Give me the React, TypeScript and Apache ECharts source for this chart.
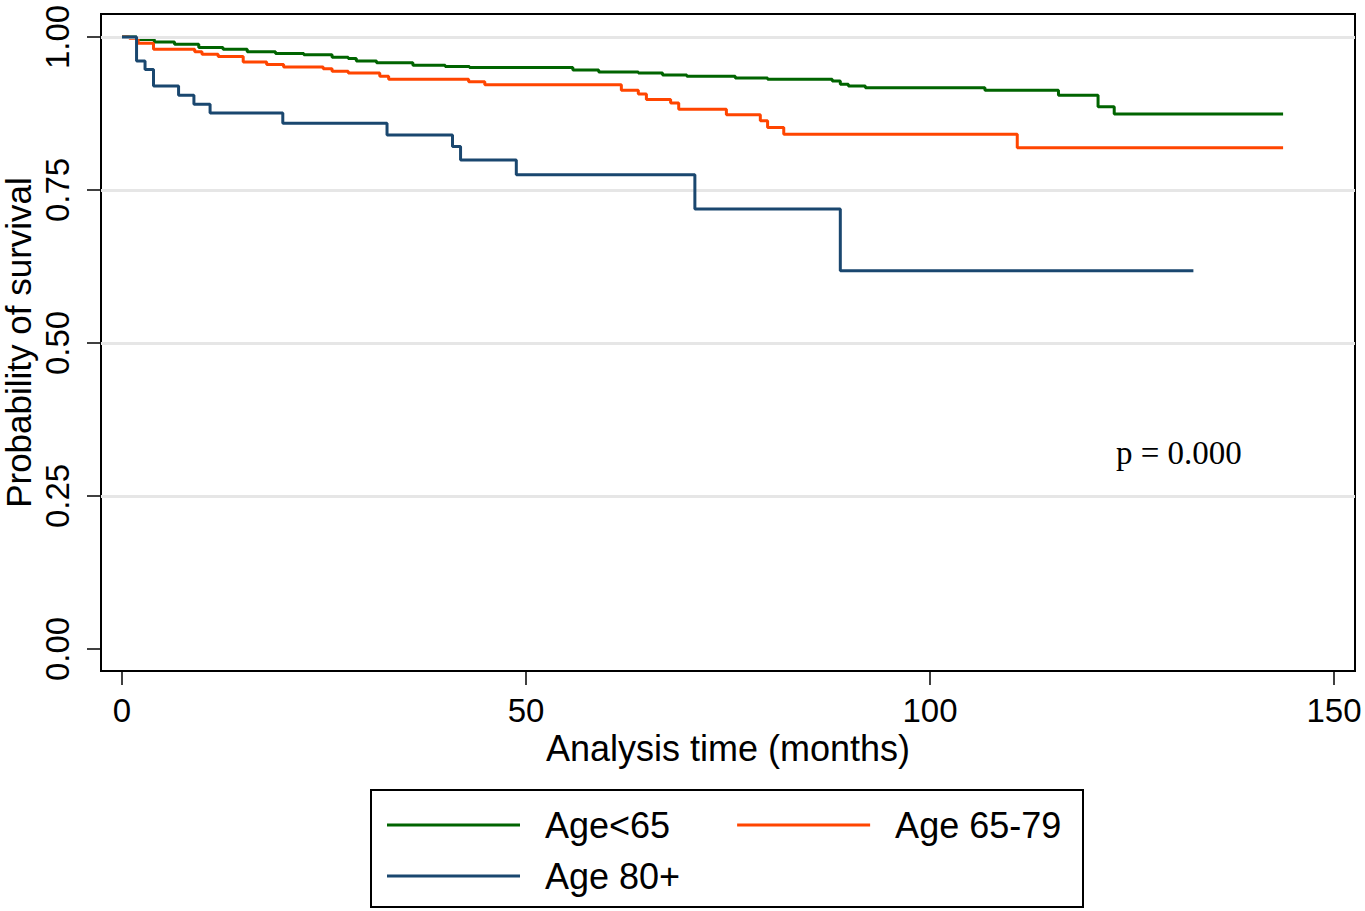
import React, { useEffect, useRef } from "react";
import * as echarts from "echarts";

// ---- Data ----
const seriesNames = ["Age<65", "Age 65-79", "Age 80+"];

const under65Months = [0, 1.8, 4.0, 6.5, 9.5, 12.5, 15.5, 19, 22.5, 26, 28, 29, 31.5, 36, 40, 43, 55.8, 59.0, 63.9, 66.9, 69.9, 75.9, 79.9, 87.9, 88.9, 89.9, 92.0, 106.8, 115.9, 120.8, 122.8, 143.7];
const under65Surv = [1.0, 0.996, 0.992, 0.988, 0.983, 0.98, 0.976, 0.973, 0.971, 0.967, 0.965, 0.961, 0.958, 0.954, 0.952, 0.95, 0.946, 0.943, 0.941, 0.938, 0.936, 0.933, 0.931, 0.928, 0.923, 0.92, 0.917, 0.913, 0.905, 0.886, 0.874, 0.874];

const age65to79Months = [0, 0.9, 2.0, 3.9, 9.0, 9.9, 11.9, 15.0, 17.9, 20.0, 24.9, 26.0, 28.0, 31.9, 33.0, 42.9, 44.9, 61.8, 63.9, 64.9, 67.9, 68.9, 74.8, 79.0, 79.9, 81.9, 110.8, 143.7];
const age65to79Surv = [1.0, 0.998, 0.99, 0.98, 0.976, 0.972, 0.968, 0.959, 0.955, 0.951, 0.948, 0.944, 0.941, 0.936, 0.931, 0.927, 0.922, 0.913, 0.907, 0.898, 0.892, 0.882, 0.873, 0.863, 0.852, 0.841, 0.819, 0.819];

const age80Months = [0, 1.8, 2.85, 3.9, 7.0, 8.9, 10.9, 19.9, 32.8, 40.9, 41.9, 48.8, 70.9, 88.9, 132.6];
const age80Surv = [1.0, 0.961, 0.947, 0.92, 0.905, 0.89, 0.876, 0.859, 0.84, 0.821, 0.799, 0.775, 0.719, 0.618, 0.618];

const xTicks = [0, 50, 100, 150];
const yTicks = [0, 0.25, 0.5, 0.75, 1];
const gridValues = [0.25, 0.5, 0.75, 1];
const pValueText = "p = 0.000";

const colors = ["#006400", "#ff4500", "#1a476f"];

const zip = (xs: number[], ys: number[]) => xs.map((x, i) => [x, ys[i]]);

const SANS = "'Liberation Sans', Arial, Helvetica, sans-serif";

export default function App() {
  const ref = useRef<HTMLDivElement>(null);
  useEffect(() => {
    if (!ref.current) return;
    const chart = echarts.init(ref.current, undefined, { renderer: "svg" });
    const lineSeries = [
      zip(under65Months, under65Surv),
      zip(age65to79Months, age65to79Surv),
      zip(age80Months, age80Surv),
    ].map((data, i) => ({
      name: seriesNames[i],
      type: "line",
      step: "end",
      data,
      showSymbol: false,
      symbol: "none",
      z: 3 + i,
      lineStyle: { color: colors[i], width: 3 },
      itemStyle: { color: colors[i] },
    }));
    chart.setOption({
      animation: false,
      backgroundColor: "#ffffff",
      grid: {
        left: 101,
        right: 10,
        top: 14,
        bottom: 240,
        outerBoundsMode: "none",
        containLabel: false,
        show: true,
        borderColor: "#000",
        borderWidth: 2,
        backgroundColor: "#fff",
      },
      xAxis: {
        type: "value",
        min: -2.6,
        max: 152.6,
        name: "Analysis time (months)",
        nameLocation: "middle",
        nameGap: 59,
        nameMoveOverlap: false,
        nameTextStyle: { fontFamily: SANS, fontSize: 36, color: "#000" },
        axisLine: { show: true, onZero: false, lineStyle: { color: "#000", width: 2 } },
        axisTick: { show: true, length: 14, customValues: xTicks, lineStyle: { color: "#000", width: 1.5 } },
        axisLabel: {
          customValues: xTicks,
          fontFamily: SANS,
          fontSize: 33,
          color: "#000",
          margin: 23,
          formatter: (v: number) => String(v),
        },
        splitLine: { show: false },
      },
      yAxis: {
        type: "value",
        min: -0.036,
        max: 1.0376,
        name: "Probability of survival",
        nameLocation: "middle",
        nameGap: 65,
        nameMoveOverlap: false,
        nameTextStyle: { fontFamily: SANS, fontSize: 35, color: "#000", lineHeight: 36 },
        axisLine: { show: true, onZero: false, lineStyle: { color: "#000", width: 2 } },
        axisTick: { show: true, length: 14, customValues: yTicks, lineStyle: { color: "#000", width: 1.5 } },
        axisLabel: {
          customValues: yTicks,
          rotate: 90,
          fontFamily: SANS,
          fontSize: 33,
          color: "#000",
          margin: 27,
          formatter: (v: number) => v.toFixed(2),
        },
        splitLine: { show: false },
      },
      legend: [
        {
          data: [seriesNames[0], seriesNames[1]],
          left: 387,
          top: 805,
          orient: "horizontal",
          padding: 0,
          itemGap: 67,
          itemWidth: 133,
          itemHeight: 3,
          icon: "rect",
          textStyle: { fontFamily: SANS, fontSize: 36, color: "#000", lineHeight: 40, padding: [0, 0, 0, 20] },
        },
        {
          data: [seriesNames[2]],
          left: 387,
          top: 856,
          orient: "horizontal",
          padding: 0,
          itemWidth: 133,
          itemHeight: 3,
          icon: "rect",
          textStyle: { fontFamily: SANS, fontSize: 36, color: "#000", lineHeight: 40, padding: [0, 0, 0, 20] },
        },
      ],
      graphic: [
        {
          type: "rect",
          shape: { x: 371, y: 790, width: 712, height: 117 },
          style: { fill: "none", stroke: "#000", lineWidth: 2 },
          silent: true,
        },
        {
          type: "text",
          x: 1116,
          y: 453,
          style: {
            text: pValueText,
            fontFamily: "'Liberation Serif', 'Times New Roman', serif",
            fontSize: 33,
            fill: "#000",
            verticalAlign: "middle",
            align: "left",
          },
          silent: true,
        },
      ],
      series: [
        {
          type: "line",
          data: [],
          z: 1,
          silent: true,
          markLine: {
            silent: true,
            symbol: "none",
            label: { show: false },
            lineStyle: { color: "#e6e6e6", width: 3, type: "solid" },
            data: gridValues.map((v) => ({ yAxis: v })),
          },
        },
        ...lineSeries,
      ],
    });
    return () => chart.dispose();
  }, []);
  return (
    <div
      ref={ref}
      style={{ position: "absolute", left: 0, top: 0, width: 1365, height: 911, background: "#fff" }}
    />
  );
}
